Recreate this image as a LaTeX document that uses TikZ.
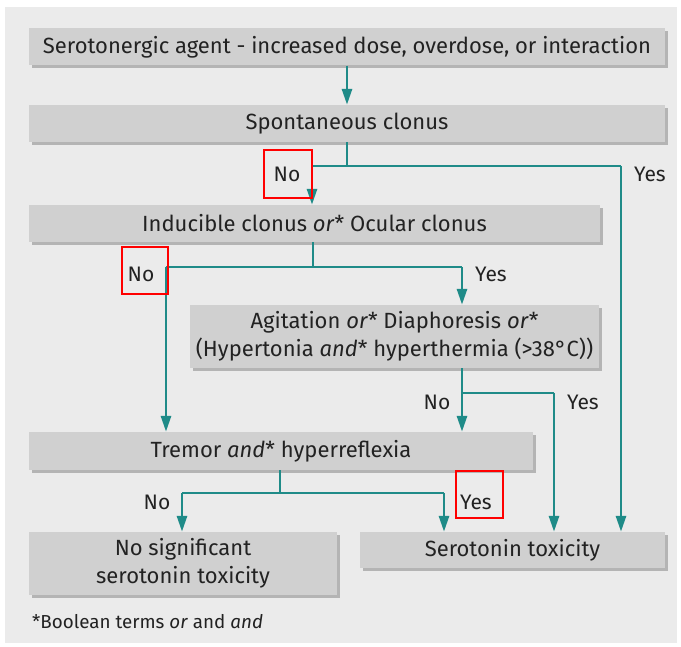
\documentclass[tikz,border=0pt]{standalone}
\usepackage{fontspec}
\setmainfont{Fira Sans}
\usetikzlibrary{arrows.meta,shadows}
\definecolor{panel}{HTML}{EBEBEB}
\definecolor{boxgray}{HTML}{D0D0D0}
\definecolor{shadowgray}{HTML}{B4B4B4}
\definecolor{teal}{HTML}{1F8B88}
\definecolor{txt}{HTML}{222222}
\begin{document}
\begin{tikzpicture}[x=1pt,y=-1pt,
  box/.style={fill=boxgray, inner sep=0pt, align=center, text=txt, font=\fontsize{22}{27.5}\selectfont,
    general shadow={fill=shadowgray, shadow xshift=3pt, shadow yshift=-3pt}},
  conn/.style={draw=teal, line width=2.8pt},
  arr/.style={conn, -{Triangle[length=16pt,width=10pt]}},
  lab/.style={font=\fontsize{21}{24}\selectfont, text=txt, inner sep=0pt},
  redbox/.style={draw=red, line width=2.4pt}]
\useasboundingbox (0,0) rectangle (681,647);
\fill[white] (0,0) rectangle (681,647);
\fill[panel] (5,7) rectangle (677,643);
% boxes
\node[box, minimum width=636pt, minimum height=37pt] (b1) at (347,47) {Serotonergic agent - increased dose, overdose, or interaction};
\node[box, minimum width=636pt, minimum height=37pt] (b2) at (347,123.5) {Spontaneous clonus};
\node[box, minimum width=571pt, minimum height=37pt] (b3) at (314.5,223.5) {Inducible clonus \textit{or}* Ocular clonus};
\node[box, minimum width=409pt, minimum height=63pt] (b4) at (394.5,336.5) {Agitation \textit{or}* Diaphoresis \textit{or}*\\(Hypertonia \textit{and}* hyperthermia (>38°C))};
\node[box, minimum width=504pt, minimum height=38pt] (b5) at (281,451) {Tremor \textit{and}* hyperreflexia};
\node[box, minimum width=308pt, minimum height=63pt] (b6) at (183,563.5) {No significant\\serotonin toxicity};
\node[box, minimum width=305pt, minimum height=36pt] (b7) at (512.5,550) {Serotonin toxicity};
\node[lab, anchor=west, font=\fontsize{18.8}{22}\selectfont] (fn) at (32,622) {*Boolean terms \textit{or} and \textit{and}};
% junctions
\coordinate (j1) at (347,166);
\coordinate (j1n) at (312,166);
\coordinate (j1y) at (621,166);
\coordinate (j2) at (313,267);
\coordinate (j2n) at (166,267);
\coordinate (j2y) at (462,267);
\coordinate (j3) at (462,393);
\coordinate (j3y) at (554,393);
\coordinate (j4) at (280,493);
\coordinate (j4n) at (182,493);
\coordinate (j4y) at (444,493);
% connectors
\draw[arr] (b1) -- (b2);
\draw[conn] (b2.south -| j1) -- (j1);
\draw[conn] (j1n) -- (j1y);
\draw[arr] (j1n) -- (j1n |- b3.north);
\draw[arr] (j1y) -- (j1y |- b7.north);
\draw[conn] (b3.south -| j2) -- (j2);
\draw[conn] (j2n) -- (j2y);
\draw[arr] (j2n) -- (j2n |- b5.north);
\draw[arr] (j2y) -- (j2y |- b4.north);
\draw[arr] (b4.south -| j3) -- (j3 |- b5.north);
\draw[conn] (j3) -- (j3y);
\draw[arr] (j3y) -- (j3y |- b7.north);
\draw[conn] (b5.south -| j4) -- (j4);
\draw[conn] (j4n) -- (j4y);
\draw[arr] (j4n) -- (j4n |- b6.north);
\draw[arr] (j4y) -- (j4y |- b7.north);
% labels
\node[lab] (l1n) at (287,174) {No};
\node[lab] (l1y) at (650,174) {Yes};
\node[lab] (l2n) at (141,274) {No};
\node[lab] (l2y) at (491,274) {Yes};
\node[lab] (l3n) at (437,402) {No};
\node[lab] (l3y) at (583,402) {Yes};
\node[lab] (l4n) at (157,502) {No};
\node[lab] (l4y) at (476,502) {Yes};
% red annotation boxes
\draw[redbox] (264,150) rectangle (312,198);
\draw[redbox] (122,247) rectangle (168,294);
\draw[redbox] (456,471) rectangle (503,518);
\end{tikzpicture}
\end{document}
